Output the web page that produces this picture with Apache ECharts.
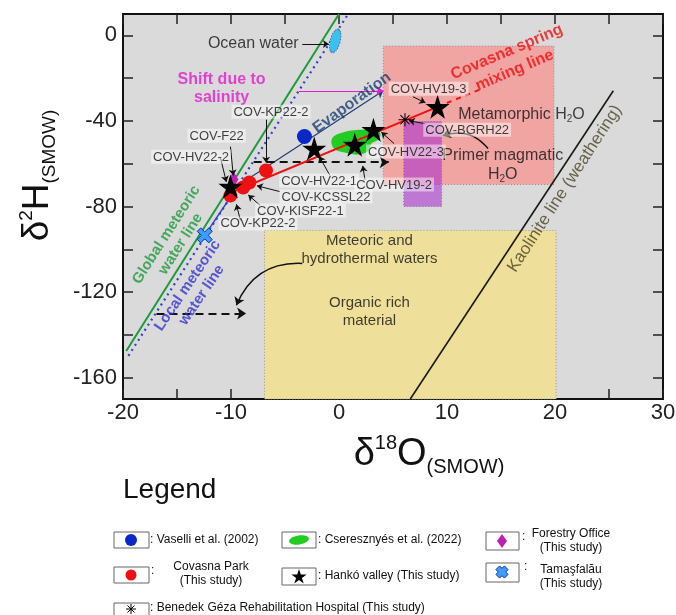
<!DOCTYPE html>
<html><head><meta charset="utf-8">
<script src="https://cdn.jsdelivr.net/npm/echarts@6/dist/echarts.min.js"></script>
<style>html,body{margin:0;padding:0;background:#fff}#c{width:676px;height:615px}</style>
</head><body><div id="c"></div>
<script>
// ---- axis ticks ----
const xTickLabels = [-20, -10, 0, 10, 20, 30];
const xTicks = [-20, -15, -10, -5, 0, 5, 10, 15, 20, 25, 30];
const yTickLabels = [0, -40, -80, -120, -160];
const yTicks = [0, -20, -40, -60, -80, -100, -120, -140, -160];

// ---- samples [d18O, d2H] ----
const vaselli = [[-3.2, -47.3]];
const covasnaPark = [[-6.76, -63.2], [-8.3, -68.8], [-8.87, -71.1], [-10.06, -74.9]];
const hanko = [[-10.05, -70.7], [-2.29, -52.9], [1.46, -51.1], [3.19, -44.1], [9.13, -33.4]];
const benedek = [[6.11, -39.4]];
const forestry = [[-9.77, -67.4]];
const tamasfalau = [[-12.43, -93.5]];
const ocean = [[-0.35, -2.6]];
// Cseresznyés et al. (2022) field outline
const blobX = [-0.65, 0.26, 2.09, 3.73, 3.73, 3.0, 2.73, 1.82, 0.54, -0.46];
const blobY = [-48.3, -45.5, -44.1, -45.0, -48.3, -50.6, -53.9, -55.7, -54.8, -52.9];

// ---- reference lines ----
const gmwl = [[-19.7, -147.6], [0, 10]];
const lmwl = [[-19.5, -149.8], [0.85, 10]];
const lmwlSolid = [[-12.43, -93.5], [-10.05, -75.6]];
const kaolinite = [[6.6, -170], [25.4, -25.9]];
const mixingSolid = [[-10.2, -73.9], [9.13, -33.4]];
const mixingDashed = [[9.13, -33.4], [13.2, -25]];

// ---- fields [x1, y1, x2, y2] ----
const boxNames = ['Meteoric/organic', 'Metamorphic', 'Magmatic'];
const boxes = [[-6.9, -91.2, 20.1, -170], [4.1, -5, 19.9, -69.7], [6.0, -40.3, 9.5, -80]];

// ---- arrows [x1, y1, x2, y2] ----
const pointerArrows = [
  [-6.75, -39.4, -6.75, -59.5],
  [-10.05, -52, -9.79, -65.5],
  [-10.96, -57.5, -10.43, -68.5],
  [-0.84, -65.5, -1.84, -56.5],
  [-5.5, -73, -7.6, -70.3],
  [-7.3, -79.5, -8.4, -74.6],
  [-9.13, -86.5, -9.5, -79],
  [5.1, -50.6, 3.92, -45.2],
  [2.4, -67.4, 2.2, -61],
  [6.85, -28.7, 8.0, -31.5],
  [8.0, -41.3, 6.47, -39.9],
  [-3.4, -4, -0.94, -4]
];
const salinityArrow = [-3.72, -25.9, 4.1, -25.9];
const evaporationArrow = [-9.78, -71.6, 4.1, -25.9];
const dashedArrows = [[-7.9, -59.3, 4.6, -59.3], [-16.9, -130, -8.6, -130]];
const curvedArrows = [[-3.4, -106.6, -9.5, -126.2], [13.8, -52.9, 9.6, -46.9]];

// ---- annotations [text, x, y, style, rotate] ----
const annotations = [
  ['Ocean water', -7.94, -4.0, 'big', 0],
  ['Shift due to\nsalinity', -10.87, -24.7, 'shift', 0],
  ['Evaporation', 1.2, -31.5, 'evap', 36],
  ['Covasna spring\nmixing line', 15.9, -12.1, 'mix', 23],
  ['Metamorphic H{s|2}O', 16.9, -37.1, 'big', 0],
  ['Primer magmatic\nH{s|2}O', 15.16, -60.6, 'big', 0],
  ['Meteoric and\nhydrothermal waters', 2.82, -100.5, 'mid', 0],
  ['Organic rich\nmaterial', 2.82, -129.4, 'mid', 0],
  ['Kaolinite line (weathering)', 20.9, -71.7, 'kao', 57],
  ['Global meteoric\nwater line', -15.32, -95.4, 'gmwl', 57.5],
  ['Local meteoric\nwater line', -13.36, -119.2, 'lmwl', 56],
  ['COV-KP22-2', -6.3, -35.7, 'sample', 0],
  ['COV-F22', -11.33, -46.9, 'sample', 0],
  ['COV-HV22-2', -13.7, -56.7, 'sample', 0],
  ['COV-HV22-1', -1.84, -67.9, 'sample', 0],
  ['COV-KCSSL22', -1.2, -75.3, 'sample', 0],
  ['COV-KISF22-1', -3.57, -81.9, 'sample', 0],
  ['COV-KP22-2', -7.5, -87.9, 'sample', 0],
  ['COV-HV22-3', 6.2, -54.3, 'sample', 0],
  ['COV-HV19-2', 5.1, -69.7, 'sample', 0],
  ['COV-HV19-3', 8.3, -25, 'sample', 0],
  ['COV-BGRH22', 11.87, -44.1, 'sample', 0]
];

const FONT = 'Liberation Sans, Arial, sans-serif';
const sub = { s: { fontSize: 10, verticalAlign: 'bottom', padding: [6, 0, 0, 0] } };
const annoStyles = {
  big: { fontSize: 16, color: '#111', lineHeight: 19 },
  mid: { fontSize: 15, color: '#111', lineHeight: 18 },
  shift: { fontSize: 16, color: '#e01ccd', fontWeight: 'bold', lineHeight: 18 },
  evap: { fontSize: 16, color: '#1e3f73', fontWeight: 'bold' },
  mix: { fontSize: 16, color: '#ee1111', fontWeight: 'bold', lineHeight: 20 },
  kao: { fontSize: 17, color: '#4a4520' },
  gmwl: { fontSize: 15, color: '#1e9a3c', fontWeight: 'bold', lineHeight: 17 },
  lmwl: { fontSize: 15, color: '#3434cc', fontWeight: 'bold', lineHeight: 17 },
  sample: { fontSize: 13, color: '#111', backgroundColor: 'rgba(255,255,255,0.6)', padding: [1, 2, 0, 2] }
};

function starPath() {
  let s = 'path://';
  for (let i = 0; i < 10; i++) {
    const a = -Math.PI / 2 + i * Math.PI / 5, r = i % 2 ? 19 : 50;
    s += (i ? 'L' : 'M') + (50 + r * Math.cos(a)).toFixed(2) + ',' + (50 + r * Math.sin(a)).toFixed(2);
  }
  return s + 'Z';
}
function asteriskPath() {
  let s = 'path://';
  for (let k = 0; k < 4; k++) {
    const a = k * Math.PI / 4, c = Math.cos(a), sn = Math.sin(a);
    const pts = [[-50, -4], [50, -4], [50, 4], [-50, 4]].map(([x, y]) => [50 + x * c - y * sn, 50 + x * sn + y * c]);
    s += 'M' + pts.map(p => p[0].toFixed(2) + ',' + p[1].toFixed(2)).join('L') + 'Z';
  }
  return s;
}
function crossPts(cx, cy, w, L) {
  const c = Math.SQRT1_2;
  return [[-w, -L], [w, -L], [w, -w], [L, -w], [L, w], [w, w], [w, L], [-w, L], [-w, w], [-L, w], [-L, -w], [-w, -w]]
    .map(([x, y]) => [cx + (x - y) * c, cy + (x + y) * c]);
}
function crossPath() {
  return 'path://M' + crossPts(50, 50, 15, 50).map(p => p[0].toFixed(2) + ',' + p[1].toFixed(2)).join('L') + 'Z';
}
function starPts(cx, cy, R) {
  const p = [];
  for (let i = 0; i < 10; i++) {
    const a = -Math.PI / 2 + i * Math.PI / 5, r = i % 2 ? R * 0.38 : R;
    p.push([cx + r * Math.cos(a), cy + r * Math.sin(a)]);
  }
  return p;
}

const boxStyles = [
  { fill: '#eee09a', stroke: '#9a9a8a', lineWidth: 1, lineDash: [1, 2] },
  { fill: '#f0a5a3', stroke: '#9a8a8a', lineWidth: 1, lineDash: [1, 2] },
  { fill: 'rgba(165,40,205,0.55)', stroke: '#8a6a9a', lineWidth: 1, lineDash: [1, 2] }
];

const toLines = arr => arr.map(a => ({ coords: [[a[0], a[1]], [a[2], a[3]]] }));

function buildLegend() {
  const g = [];
  const box = (x, y, w, h) => g.push({ type: 'rect', shape: { x, y, width: w, height: h }, style: { fill: '#fff', stroke: '#666', lineWidth: 1 } });
  const txt = (x, y, t, align) => g.push({ type: 'text', x, y, style: { text: t, font: '12px ' + FONT, fill: '#111', align: align || 'left', verticalAlign: 'middle', lineHeight: 14 } });
  g.push({ type: 'text', x: 123, y: 490, style: { text: 'Legend', font: '28px ' + FONT, fill: '#111', verticalAlign: 'middle' } });
  box(114, 532, 35, 16); g.push({ type: 'circle', shape: { cx: 131, cy: 540, r: 6 }, style: { fill: '#0a28c8' } });
  txt(150, 540, ': Vaselli et al. (2002)');
  box(282, 532, 34, 16); g.push({ type: 'ellipse', shape: { cx: 299, cy: 540, rx: 10, ry: 4.5 }, rotation: 0.15, originX: 299, originY: 540, style: { fill: '#22cc22' } });
  txt(318, 540, ': Cseresznyés et al. (2022)');
  box(486, 532, 33, 18); g.push({ type: 'polygon', shape: { points: [[502, 534], [507, 541], [502, 548], [497, 541]] }, style: { fill: '#c020b0' } });
  txt(522, 537, ':'); txt(571, 541, 'Forestry Office\n(This study)', 'center');
  box(114, 567, 35, 16); g.push({ type: 'circle', shape: { cx: 131, cy: 575, r: 5.5 }, style: { fill: '#ee1111' } });
  txt(151, 571, ':'); txt(211, 574, 'Covasna Park\n(This study)', 'center');
  box(282, 568, 34, 17); g.push({ type: 'polygon', shape: { points: starPts(299, 577, 8) }, style: { fill: '#000' } });
  txt(318, 576, ': Hankó valley (This study)');
  box(486, 563, 33, 19);
  g.push({ type: 'polygon', shape: { points: crossPts(502, 572, 2.6, 6) }, style: { fill: '#3d9cff', stroke: '#1030a0', lineWidth: 1 } });
  txt(524, 567, ':'); txt(571, 577, 'Tamaşfalău\n(This study)', 'center');
  box(114, 603, 35, 17);
  for (let k = 0; k < 4; k++) {
    const a = k * Math.PI / 4;
    g.push({ type: 'line', shape: { x1: 131 - 5 * Math.cos(a), y1: 609 - 5 * Math.sin(a), x2: 131 + 5 * Math.cos(a), y2: 609 + 5 * Math.sin(a) }, style: { stroke: '#000', lineWidth: 1 } });
  }
  txt(150, 608, ': Benedek Géza Rehabilitation Hospital (This study)');
  return g;
}

const chart = echarts.init(document.getElementById('c'));
const axisTickCommon = { inside: true, length: 10, lineStyle: { color: '#222', width: 1.5 } };
const axisLineCommon = { show: true, onZero: false, lineStyle: { color: '#111', width: 2 } };

const option = {
  backgroundColor: '#ffffff',
  animation: false,
  textStyle: { fontFamily: FONT },
  grid: { left: 123, right: 13, top: 14, bottom: 216, show: true, backgroundColor: '#dadada', borderColor: '#111', borderWidth: 2, outerBoundsMode: 'none', containLabel: false },
  xAxis: [
    {
      type: 'value', min: -20, max: 30, position: 'bottom',
      splitLine: { show: false },
      axisLine: axisLineCommon,
      axisTick: Object.assign({ customValues: xTicks }, axisTickCommon),
      axisLabel: { customValues: xTickLabels, fontSize: 22, color: '#222', margin: 3, fontFamily: FONT },
      name: '{d|δ}{sup|18}{d|O}{sub|(SMOW)}', nameLocation: 'middle', nameGap: 34,
      nameTextStyle: {
        padding: [0, 0, 0, 72],
        rich: {
          d: { fontSize: 38, color: '#111', fontFamily: FONT, lineHeight: 44 },
          sup: { fontSize: 20, color: '#111', fontFamily: FONT, verticalAlign: 'top', lineHeight: 44 },
          sub: { fontSize: 20, color: '#111', fontFamily: FONT, verticalAlign: 'bottom', lineHeight: 44, padding: [14, 0, 0, 0] }
        }
      }
    },
    {
      type: 'value', min: -20, max: 30, position: 'top',
      splitLine: { show: false }, axisLine: axisLineCommon,
      axisTick: Object.assign({ customValues: xTicks }, axisTickCommon),
      axisLabel: { show: false }
    }
  ],
  yAxis: [
    {
      type: 'value', min: -170, max: 10, position: 'left',
      splitLine: { show: false }, axisLine: axisLineCommon,
      axisTick: Object.assign({ customValues: yTicks }, axisTickCommon),
      axisLabel: { customValues: yTickLabels, fontSize: 22, color: '#222', margin: 6, fontFamily: FONT },
      name: '{d|δ}{sup|2}{d|H}{sub|(SMOW)}', nameLocation: 'middle', nameGap: 64,
      nameTextStyle: {
        padding: [0, 0, 0, 62],
        rich: {
          d: { fontSize: 37, color: '#111', fontFamily: FONT, lineHeight: 42 },
          sup: { fontSize: 19, color: '#111', fontFamily: FONT, verticalAlign: 'top', lineHeight: 42 },
          sub: { fontSize: 19, color: '#111', fontFamily: FONT, verticalAlign: 'bottom', lineHeight: 42, padding: [12, 0, 0, 0] }
        }
      }
    },
    {
      type: 'value', min: -170, max: 10, position: 'right',
      splitLine: { show: false }, axisLine: axisLineCommon,
      axisTick: Object.assign({ customValues: yTicks }, axisTickCommon),
      axisLabel: { show: false }
    }
  ],
  series: [
    {
      name: 'Fields', type: 'custom', z: 1, silent: true,
      encode: { x: [0, 2], y: [1, 3] },
      data: boxes,
      renderItem: (params, api) => {
        const p1 = api.coord([api.value(0), api.value(1)]);
        const p2 = api.coord([api.value(2), api.value(3)]);
        return {
          type: 'rect',
          shape: { x: Math.min(p1[0], p2[0]), y: Math.min(p1[1], p2[1]), width: Math.abs(p2[0] - p1[0]), height: Math.abs(p2[1] - p1[1]) },
          style: boxStyles[params.dataIndex]
        };
      }
    },
    { name: 'Global meteoric water line', type: 'line', z: 2, data: gmwl, showSymbol: false, symbol: 'none', lineStyle: { color: '#1e9a3c', width: 2 } },
    { name: 'Local meteoric water line', type: 'line', z: 2, data: lmwl, showSymbol: false, symbol: 'none', lineStyle: { color: '#3040d0', width: 2.2, type: [2, 4] } },
    { name: 'LMWL segment', type: 'line', z: 2, data: lmwlSolid, showSymbol: false, symbol: 'none', lineStyle: { color: '#3040d0', width: 1.5 } },
    { name: 'Kaolinite line', type: 'line', z: 2, data: kaolinite, showSymbol: false, symbol: 'none', lineStyle: { color: '#1a1a10', width: 1.6 } },
    { name: 'Covasna spring mixing line', type: 'line', z: 3, data: mixingSolid, showSymbol: false, symbol: 'none', lineStyle: { color: '#ee1111', width: 2 } },
    { name: 'Mixing line extension', type: 'line', z: 3, data: mixingDashed, showSymbol: false, symbol: 'none', lineStyle: { color: '#ee1111', width: 2, type: [5, 5] } },
    {
      name: 'Cseresznyés et al. (2022)', type: 'custom', z: 3, silent: true,
      encode: { x: 0, y: 1 }, data: [[blobX[0], blobY[0]]],
      renderItem: (params, api) => ({
        type: 'polygon',
        shape: { points: blobX.map((x, i) => api.coord([x, blobY[i]])), smooth: 0.4 },
        style: { fill: '#22cc22' }
      })
    },
    {
      name: 'Evaporation', type: 'lines', coordinateSystem: 'cartesian2d', z: 3,
      data: toLines([evaporationArrow]), symbol: ['none', 'arrow'], symbolSize: 7,
      lineStyle: { color: '#1e3f73', width: 1.2, opacity: 1 }
    },
    {
      name: 'Shift due to salinity', type: 'lines', coordinateSystem: 'cartesian2d', z: 3,
      data: toLines([salinityArrow]), symbol: ['none', 'arrow'], symbolSize: 7,
      lineStyle: { color: '#e81ccc', width: 1.2, opacity: 1 }
    },
    {
      name: 'Dashed arrows', type: 'lines', coordinateSystem: 'cartesian2d', z: 3,
      data: toLines(dashedArrows), symbol: ['none', 'arrow'], symbolSize: 9,
      lineStyle: { color: '#111', width: 2, type: [8, 5], opacity: 1 }
    },
    {
      name: 'Curved arrows', type: 'lines', coordinateSystem: 'cartesian2d', z: 3,
      data: toLines(curvedArrows), symbol: ['none', 'arrow'], symbolSize: 8,
      lineStyle: { color: '#111', width: 1.5, curveness: -0.35, opacity: 1 }
    },
    {
      name: 'Pointers', type: 'lines', coordinateSystem: 'cartesian2d', z: 6,
      data: toLines(pointerArrows), symbol: ['none', 'arrow'], symbolSize: 6,
      lineStyle: { color: '#111', width: 1, opacity: 1 }
    },
    { name: 'Ocean water', type: 'scatter', z: 4, data: ocean, symbol: 'circle', symbolSize: [10, 24], symbolRotate: -15,
      itemStyle: { color: '#3cc0ee', borderColor: '#2050a0', borderWidth: 1, borderType: 'dotted', opacity: 1 } },
    { name: 'Vaselli et al. (2002)', type: 'scatter', z: 4, data: vaselli, symbol: 'circle', symbolSize: 15, itemStyle: { color: '#0a28c8', opacity: 1 } },
    { name: 'Covasna Park (This study)', type: 'scatter', z: 4, data: covasnaPark, symbol: 'circle', symbolSize: 14, itemStyle: { color: '#ee1111', opacity: 1 } },
    { name: 'Tamaşfalău (This study)', type: 'scatter', z: 4, data: tamasfalau, symbol: crossPath(), symbolSize: 15,
      itemStyle: { color: '#3d9cff', borderColor: '#1030a0', borderWidth: 1, opacity: 1 } },
    { name: 'Forestry Office (This study)', type: 'scatter', z: 4, data: forestry, symbol: 'diamond', symbolSize: [10, 16], itemStyle: { color: '#c020b0', opacity: 1 } },
    { name: 'Hankó valley (This study)', type: 'scatter', z: 5, data: hanko, symbol: starPath(), symbolSize: 24, itemStyle: { color: '#000', opacity: 1 } },
    { name: 'Benedek Géza Rehabilitation Hospital (This study)', type: 'scatter', z: 5, data: benedek, symbol: asteriskPath(), symbolSize: 13, itemStyle: { color: '#000', opacity: 1 } },
    {
      name: 'Annotations', type: 'scatter', z: 7, silent: true, symbolSize: 0,
      data: annotations.map(a => ({
        value: [a[1], a[2]],
        label: Object.assign({ show: true, formatter: a[0], position: 'inside', align: 'center', verticalAlign: 'middle', rotate: a[4], fontFamily: FONT, rich: sub }, annoStyles[a[3]])
      }))
    }
  ],
  graphic: buildLegend()
};

chart.setOption(option);
</script>
</body></html>
